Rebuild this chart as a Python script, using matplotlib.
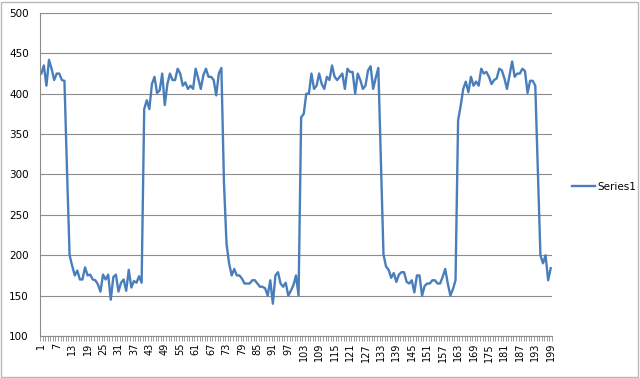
import numpy as np
import matplotlib
matplotlib.use("Agg")
import matplotlib.pyplot as plt
from matplotlib.patches import Rectangle

# data (one value per category 1..199)
series_name = "Series1"
values = [
    425, 435, 410, 442, 431, 417, 425, 425, 417, 416,
    305, 200,
    187, 175, 181, 170, 170, 185, 175, 176, 170, 169, 164, 155, 176, 170,
    176, 145, 173, 176, 155, 166, 170, 156, 182,
    160, 168, 166, 174, 166,
    381, 392, 381, 412, 421, 401, 404, 425, 386, 412, 425, 417, 417, 431,
    425, 410, 414, 406, 410, 406, 431, 419, 406, 423, 431, 421, 421, 417,
    398, 425, 432,
    290, 214, 190, 175, 183, 175, 175, 171, 165, 165, 165, 169, 169, 165,
    161, 161, 159, 150, 169, 140, 175, 179, 165, 161, 166, 150, 156, 163,
    175, 150,
    371, 375, 400, 400, 425, 406, 410, 425, 412, 406, 421, 417, 435, 421,
    417, 421, 425, 406, 431, 427, 427, 400, 425, 417, 406, 410, 429, 434,
    406, 420, 432,
    315, 201, 186, 182, 172, 178, 167, 176, 179, 179, 167, 165, 169, 154,
    175, 175, 150, 162, 165, 165, 169, 169, 165, 165, 173, 183, 165, 150,
    158, 169,
    367, 385, 406, 415, 402, 421, 410, 415, 410, 431, 425, 427, 421, 412,
    417, 419, 431, 429, 419, 406, 423, 440, 421, 425, 425, 431, 428, 401,
    416, 416, 410,
    305, 200, 190, 200, 169, 184,
]
categories = list(range(1, len(values) + 1))
x_labels = categories[::6]
y_ticks = [100, 150, 200, 250, 300, 350, 400, 450, 500]

fig = plt.figure(figsize=(6.4, 3.78), dpi=100)
ax = fig.add_axes([40 / 640, 1 - 336 / 378, 512 / 640, 323 / 378])

line_color = "#4a7ebb"
grid_color = "#8c8c8c"

ax.plot(categories, values, color=line_color, lw=1.7, label=series_name,
        solid_joinstyle="round")

ax.set_xlim(0.5, len(values) + 0.5)
ax.set_ylim(100, 500)
ax.set_yticks(y_ticks)
ax.yaxis.grid(True, color=grid_color, lw=0.8)
ax.set_axisbelow(True)

# labels every 6th category, tick marks at every category boundary
ax.set_xticks(x_labels)
ax.set_xticklabels([str(v) for v in x_labels], rotation=90, fontsize=7)
ax.set_xticks(np.arange(0.5, len(values) + 1), minor=True)
ax.tick_params(axis="x", which="major", length=0, pad=5)
ax.tick_params(axis="x", which="minor", length=3.5, color=grid_color, width=0.6)
ax.tick_params(axis="y", length=0, labelsize=7.5, pad=8)

for side in ["top", "right"]:
    ax.spines[side].set_visible(False)
for side in ["left", "bottom"]:
    ax.spines[side].set_color(grid_color)
    ax.spines[side].set_linewidth(0.8)

fig.legend(loc="center left", bbox_to_anchor=(563 / 640, 1 - 187 / 378),
           frameon=False, fontsize=7.5, handlelength=2.2, handletextpad=0.2)

# light outer border like the chart area frame
fig.patches.append(Rectangle((0.002, 0.003), 0.995, 0.993, transform=fig.transFigure,
                             fill=False, edgecolor="#b8b8b8", lw=1.0))

fig.savefig("out.png", dpi=100)
